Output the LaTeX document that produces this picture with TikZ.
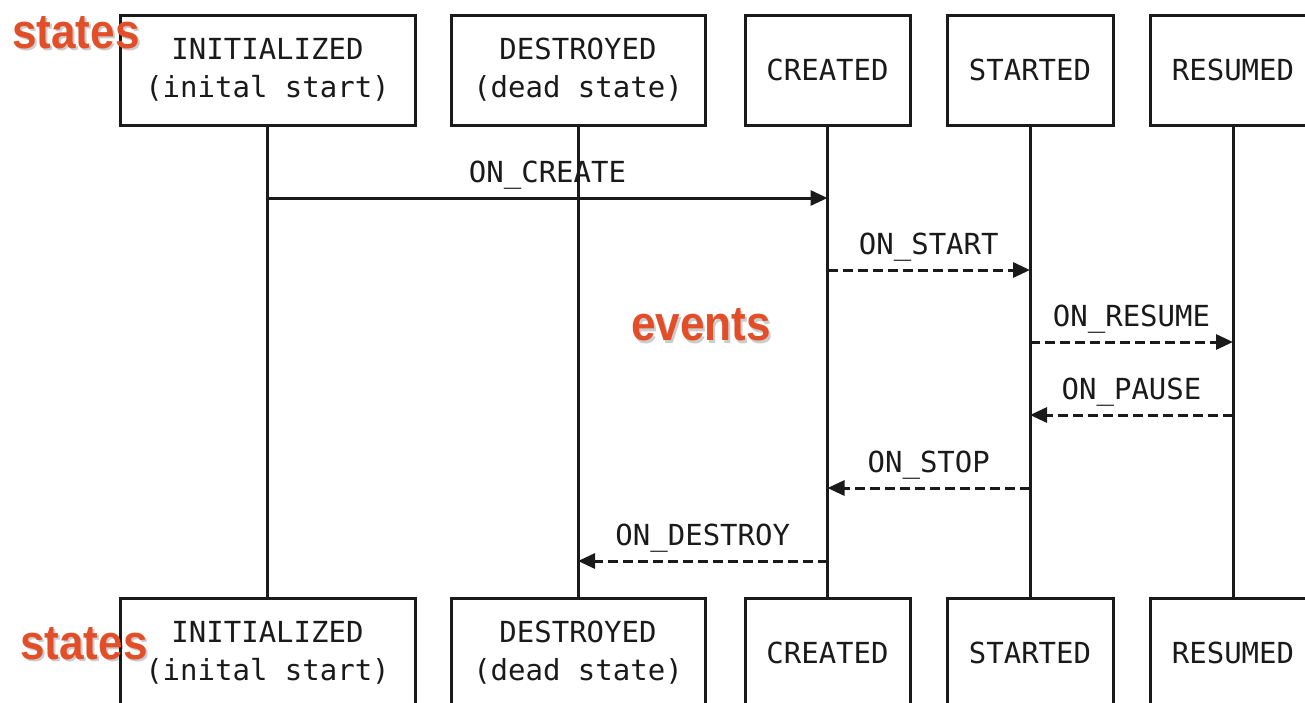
\documentclass[tikz,border=0pt]{standalone}
\usepackage{fontspec}
\setmonofont{DejaVu Sans Mono}
\setsansfont{Liberation Sans}
\usetikzlibrary{arrows.meta}
\definecolor{lbl}{HTML}{E24E28}
\definecolor{ink}{HTML}{1A1A1A}
\tikzset{
 statebox/.style={draw=ink, line width=3pt, minimum height=110pt, inner sep=0pt,
   font=\ttfamily\fontsize{29}{38}\selectfont, align=center, text=ink},
 life/.style={draw=ink, line width=3pt},
 evt/.style={draw=ink, line width=3pt, -{Triangle[length=17pt,width=15pt]}},
 evtd/.style={evt, dash pattern=on 10pt off 5pt},
 evtlabel/.style={font=\ttfamily\fontsize{29}{35}\selectfont, text=ink, anchor=base, inner sep=0pt},
 tag/.style={font=\sffamily\bfseries\fontsize{49}{49}\selectfont, text=lbl, anchor=base west, inner sep=0pt, xscale=0.9},
 tagshadow/.style={tag, text=black, opacity=0.2}
}
\begin{document}
\begin{tikzpicture}[x=1pt,y=-1pt]
\useasboundingbox (0,0) rectangle (1305,702);
\clip (0,0) rectangle (1305,702);
\fill[white] (0,0) rectangle (1305,702);
% top states
\node[statebox, minimum width=295pt] (ti) at (267.5,70) {INITIALIZED\\(inital start)};
\node[statebox, minimum width=254pt] (td) at (578,70) {DESTROYED\\(dead state)};
\node[statebox, minimum width=165pt] (tc) at (827.5,70) {CREATED};
\node[statebox, minimum width=166pt] (ts) at (1030,70) {STARTED};
\node[statebox, minimum width=166pt] (tr) at (1233,70) {RESUMED};
% bottom states
\node[statebox, minimum width=295pt] (bi) at (267.5,653) {INITIALIZED\\(inital start)};
\node[statebox, minimum width=254pt] (bd) at (578,653) {DESTROYED\\(dead state)};
\node[statebox, minimum width=165pt] (bc) at (827.5,653) {CREATED};
\node[statebox, minimum width=166pt] (bs) at (1030,653) {STARTED};
\node[statebox, minimum width=166pt] (br) at (1233,653) {RESUMED};
% lifelines
\draw[life] (ti.south) -- (bi.north);
\draw[life] (td.south) -- (bd.north);
\draw[life] (tc.south) -- (bc.north);
\draw[life] (ts.south) -- (bs.north);
\draw[life] (tr.south) -- (br.north);
% events
\draw[evt] (ti.south |- 0,198) -- (tc.south |- 0,198)
  node[evtlabel, midway, yshift=15.5pt] (e1) {ON\_CREATE};
\draw[evtd] (tc.south |- 0,270) -- (ts.south |- 0,270)
  node[evtlabel, midway, yshift=15.5pt] (e2) {ON\_START};
\draw[evtd] (ts.south |- 0,342) -- (tr.south |- 0,342)
  node[evtlabel, midway, yshift=15.5pt] (e3) {ON\_RESUME};
\draw[evtd] (tr.south |- 0,415) -- (ts.south |- 0,415)
  node[evtlabel, midway, yshift=15.5pt] (e4) {ON\_PAUSE};
\draw[evtd] (ts.south |- 0,488) -- (tc.south |- 0,488)
  node[evtlabel, midway, yshift=15.5pt] (e5) {ON\_STOP};
\draw[evtd] (tc.south |- 0,561) -- (td.south |- 0,561)
  node[evtlabel, midway, yshift=15.5pt] (e6) {ON\_DESTROY};
% tags
\node[tagshadow] (t1s) at (14,50.5) {states};
\node[tag] (t1) at (12,48) {states};
\node[tagshadow] (t2s) at (22,661.5) {states};
\node[tag] (t2) at (20,659) {states};
\node[tagshadow] (t3s) at (633,343) {events};
\node[tag] (t3) at (631,340.5) {events};
\end{tikzpicture}
\end{document}
